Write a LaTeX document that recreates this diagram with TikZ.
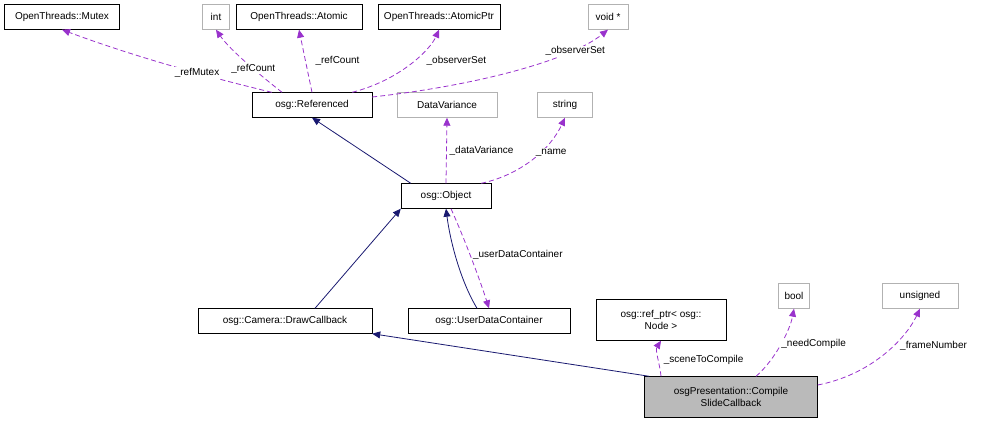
\documentclass[tikz,border=0pt]{standalone}
\usepackage{fontspec}
\setmainfont{Liberation Sans}
\usetikzlibrary{arrows.meta}
\begin{document}
\begin{tikzpicture}[x=1pt,y=-1pt,
  box/.style={draw=black,fill=white,inner sep=2pt,font=\fontsize{10}{11.5}\selectfont,align=center,minimum height=25pt},
  gbox/.style={box,draw=black!30},
  inh/.style={draw={rgb,255:red,25;green,25;blue,112},thick,-{Triangle[length=8pt,width=7pt]}},
  mem/.style={draw={rgb,255:red,153;green,50;blue,204},thick,dash pattern=on 5pt off 3pt,-{Triangle[length=8pt,width=7pt]}},
  lbl/.style={font=\fontsize{10}{11.5}\selectfont,fill=white,inner sep=1pt}]
\useasboundingbox (0,0) rectangle (988,424);
\node[box,minimum width=115pt] (mutex) at (62,17) {OpenThreads::Mutex};
\node[gbox,minimum width=27pt] (int) at (216,17) {int};
\node[box,minimum width=126pt] (atomic) at (299,17) {OpenThreads::Atomic};
\node[box,minimum width=122pt] (aptr) at (439,17) {OpenThreads::AtomicPtr};
\node[gbox,minimum width=40pt] (void) at (608,17) {void *};
\node[box,minimum width=120pt] (ref) at (312,105) {osg::Referenced};
\node[gbox,minimum width=100pt] (dv) at (447,105) {DataVariance};
\node[gbox,minimum width=55pt] (str) at (565,105) {string};
\node[box,minimum width=90pt] (obj) at (446,196) {osg::Object};
\node[box,minimum width=174pt] (cam) at (285,321) {osg::Camera::DrawCallback};
\node[box,minimum width=162pt] (udc) at (489,321) {osg::UserDataContainer};
\node[box,minimum width=130pt,minimum height=41pt] (rp) at (661,320) {osg::ref\_ptr< osg::\\Node >};
\node[gbox,minimum width=31pt] (bool) at (794,296) {bool};
\node[gbox,minimum width=76pt] (uns) at (920,296) {unsigned};
\node[box,fill=black!27,minimum width=173pt,minimum height=41pt] (csc) at (731,397) {osgPresentation::Compile\\SlideCallback};
% inheritance
\draw[inh] (obj.north west) ++(10,0) -- (ref.south);
\draw[inh] (cam.north) ++(30,0) -- (obj.south west);
\draw[inh] (udc.north) ++(-12,0) .. controls (460,280) and (450,240) .. (obj.south);
\draw[inh] (csc.north west) ++(5,0) -- (cam.south east);
% members
\draw[mem] (ref.north west) ++(20,0) .. controls (200,75) and (130,55) .. (mutex.south) node[lbl,pos=0.35] {\_refMutex};
\draw[mem] (ref.north) ++(-30,0) .. controls (260,75) and (230,50) .. (int.south) node[lbl,pos=0.4] {\_refCount};
\draw[mem] (ref.north) ++(0,0) -- (atomic.south) node[lbl,midway,xshift=32] {\_refCount};
\draw[mem] (ref.north east) ++(-20,0) .. controls (400,80) and (430,50) .. (aptr.south) node[lbl,pos=0.55,xshift=42] {\_observerSet};
\draw[mem] (ref.east) ++(0,-8) .. controls (480,85) and (570,60) .. (void.south) node[lbl,pos=0.75,xshift=5] {\_observerSet};
\draw[mem] (obj.north) -- (dv.south) node[lbl,midway,xshift=35] {\_dataVariance};
\draw[mem] (obj.north east) ++(-10,0) .. controls (520,175) and (550,150) .. (str.south) node[lbl,pos=0.6,xshift=11] {\_name};
\draw[mem] (obj.south) ++(5,0) .. controls (465,240) and (480,280) .. (udc.north) node[lbl,pos=0.45,xshift=48] {\_userDataContainer};
\draw[mem] (csc.north) ++(-70,0) .. controls (660,365) and (655,350) .. (rp.south) node[lbl,pos=0.45,xshift=45] {\_sceneToCompile};
\draw[mem] (csc.north) ++(25,0) .. controls (775,360) and (790,330) .. (bool.south) node[lbl,pos=0.5,xshift=33] {\_needCompile};
\draw[mem] (csc.east) ++(0,-12) .. controls (870,375) and (905,340) .. (uns.south) node[lbl,pos=0.6,xshift=41] {\_frameNumber};
\end{tikzpicture}
\end{document}
